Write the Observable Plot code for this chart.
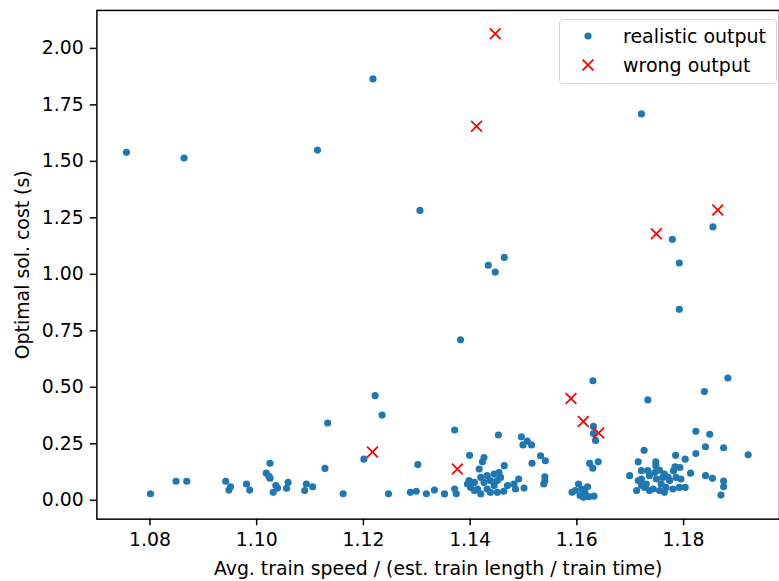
<!DOCTYPE html>
<html>
<head>
<meta charset="utf-8">
<script src="https://cdn.jsdelivr.net/npm/d3@7"></script>
<script src="https://cdn.jsdelivr.net/npm/@observablehq/plot@0.6"></script>
<style>
  html, body { margin: 0; padding: 0; background: #fff; overflow: hidden; }
  #wrap { position: relative; width: 779px; height: 581px; overflow: hidden; }
  #legend { position: absolute; left: 559px; top: 19px; width: 216px; height: 63px;
    border: 1px solid #d6d6d6; border-radius: 4px; background: rgba(255,255,255,0.85);
    font-family: "DejaVu Sans", sans-serif; font-size: 19px; color: #000; }
  .item { position: absolute; left: 0; width: 216px; height: 22px; }
  .item svg { position: absolute; left: 17px; top: 0; }
  .item span { position: absolute; left: 63px; white-space: nowrap; line-height: 22px; top: 0; }
</style>
</head>
<body>
<div id="wrap"></div>
<script>
const seriesNames = ["realistic output", "wrong output"];
const xLabel = "Avg. train speed / (est. train length / train time)";
const yLabel = "Optimal sol. cost (s)";
const xTicks = [1.08, 1.10, 1.12, 1.14, 1.16, 1.18];
const yTicks = [0, 0.25, 0.5, 0.75, 1.0, 1.25, 1.5, 1.75, 2.0];

const realX = [1.0756,1.0864,1.1114,1.1218,1.1306,1.1721,1.1382,1.1434,1.1447,1.1464,1.1779,1.1792,1.1792,1.1855,
1.1222,1.1235,1.1133,1.1371,1.1630,1.1733,1.1839,1.1883,1.1631,1.1631,1.1635,1.1823,1.1849,1.1453,1.1496,1.1507,
1.1499,1.1515,1.1726,1.1841,1.1875,1.1823,1.1785,1.1803,1.1921,1.1201,1.1128,1.1302,1.1399,1.1025,1.1426,1.1423,
1.1464,1.1532,1.1541,1.1516,1.1417,1.1624,1.1640,1.1630,1.1715,1.1748,1.1699,1.1813,1.1841,1.1854,1.1875,1.1875,
1.1870,1.1712,1.1721,1.1733,1.1755,1.1764,1.1781,1.1784,1.1793,1.1795,1.1721,1.1730,1.1743,1.1749,1.1758,1.1767,
1.1774,1.1780,1.1792,1.1803,1.1736,1.1761,1.1746,1.1727,1.1736,1.1755,1.1771,1.1786,1.1715,1.1748,1.1764,1.1721,
1.1603,1.1597,1.1609,1.1615,1.1606,1.1620,1.1622,1.1632,1.1591,1.1612,1.1540,1.1540,1.1538,1.1491,1.1501,1.1470,
1.1463,1.1445,1.1454,1.1398,1.1395,1.1401,1.1420,1.1414,1.1432,1.1445,1.1408,1.1426,1.1438,1.1451,1.1420,1.1432,
1.1457,1.1482,1.1485,1.1408,1.1438,1.1451,1.1333,1.1352,1.1371,1.1374,1.1318,1.1299,1.1288,1.1247,1.1162,1.1093,
1.1090,1.1105,1.1059,1.1056,1.1036,1.1039,1.0801,1.0849,1.0869,1.0942,1.0951,1.0948,1.0981,1.0987,1.1018,1.1023,
1.1025,1.1031];
const realY = [1.54,1.515,1.55,1.865,1.283,1.71,0.71,1.04,1.01,1.075,1.155,1.05,0.845,1.21,
0.463,0.377,0.342,0.311,0.529,0.444,0.481,0.541,0.327,0.295,0.265,0.305,0.292,0.289,0.281,0.262,
0.245,0.245,0.221,0.237,0.232,0.207,0.199,0.182,0.201,0.182,0.141,0.158,0.199,0.164,0.189,0.170,
0.153,0.197,0.175,0.164,0.138,0.163,0.170,0.142,0.170,0.170,0.109,0.120,0.109,0.097,0.085,0.060,
0.023,0.043,0.131,0.131,0.133,0.116,0.131,0.148,0.145,0.094,0.094,0.072,0.050,0.094,0.072,0.057,
0.087,0.050,0.057,0.057,0.109,0.101,0.123,0.057,0.043,0.043,0.101,0.101,0.087,0.153,0.035,0.066,
0.072,0.043,0.050,0.035,0.021,0.060,0.016,0.018,0.035,0.013,0.104,0.087,0.072,0.094,0.054,0.065,
0.040,0.116,0.123,0.087,0.072,0.057,0.028,0.050,0.050,0.065,0.079,0.079,0.087,0.087,0.101,0.109,
0.101,0.072,0.050,0.043,0.035,0.035,0.045,0.028,0.050,0.029,0.029,0.040,0.035,0.029,0.029,0.072,
0.043,0.060,0.079,0.053,0.065,0.054,0.029,0.084,0.084,0.084,0.060,0.045,0.072,0.045,0.120,0.106,
0.098,0.035];

const wrongX = [1.1447, 1.1412, 1.1749, 1.1864, 1.1589, 1.1612, 1.1641, 1.1217, 1.1376];
const wrongY = [2.065, 1.655, 1.18, 1.285, 0.450, 0.349, 0.298, 0.214, 0.138];

const real = realX.map((x, i) => ({x, y: realY[i]}));
const wrong = wrongX.map((x, i) => ({x, y: wrongY[i]}));

const blue = "#1f77b4";
const red = "#ff0000";

const chart = Plot.plot({
  width: 784,
  height: 581,
  marginLeft: 97,
  marginRight: 0,
  marginTop: 10,
  marginBottom: 59,
  style: {fontFamily: "DejaVu Sans, sans-serif", fontSize: "19px", color: "#000", background: "#fff", overflow: "visible"},
  x: {domain: [1.07006, 1.19797]},
  y: {domain: [-0.0836, 2.168]},
  marks: [
    Plot.dot(real, {x: "x", y: "y", r: 3.6, fill: blue, stroke: "none"}),
    Plot.dot(wrong, {x: "x", y: "y", symbol: "times", r: 5, stroke: red, strokeWidth: 1.8}),
    Plot.frame({stroke: "#000", strokeWidth: 1.5}),
    Plot.axisX({ticks: xTicks, tickFormat: d3.format(".2f"), tickSize: 6.6, tickPadding: 7.2, label: null, strokeWidth: 1.5, fontSize: 19}),
    Plot.axisY({ticks: yTicks, tickFormat: d3.format(".2f"), tickSize: 6.6, tickPadding: 6.6, label: null, strokeWidth: 1.5, fontSize: 19}),
    Plot.text([xLabel], {frameAnchor: "bottom", dy: 50, fontSize: 19, fill: "#000", textAnchor: "middle", lineAnchor: "middle"}),
    Plot.text([yLabel], {frameAnchor: "left", dx: -74, rotate: -90, fontSize: 19, fill: "#000", textAnchor: "middle", lineAnchor: "middle"})
  ]
});
const wrap = document.getElementById("wrap");
wrap.appendChild(chart);

// legend
const legend = document.createElement("div");
legend.id = "legend";
const rows = [{name: seriesNames[0], kind: "dot", top: 5}, {name: seriesNames[1], kind: "times", top: 34}];
for (const r of rows) {
  const item = document.createElement("div");
  item.className = "item";
  item.style.top = r.top + "px";
  const s = d3.create("svg").attr("width", 22).attr("height", 22);
  if (r.kind === "dot") s.append("circle").attr("cx", 11).attr("cy", 11).attr("r", 3.6).attr("fill", blue);
  else s.append("path").attr("d", "M5.6,5.6L16.4,16.4M16.4,5.6L5.6,16.4").attr("stroke", red).attr("stroke-width", 1.8).attr("fill", "none");
  item.appendChild(s.node());
  const t = document.createElement("span");
  t.textContent = r.name;
  item.appendChild(t);
  legend.appendChild(item);
}
wrap.appendChild(legend);
</script>
</body>
</html>
